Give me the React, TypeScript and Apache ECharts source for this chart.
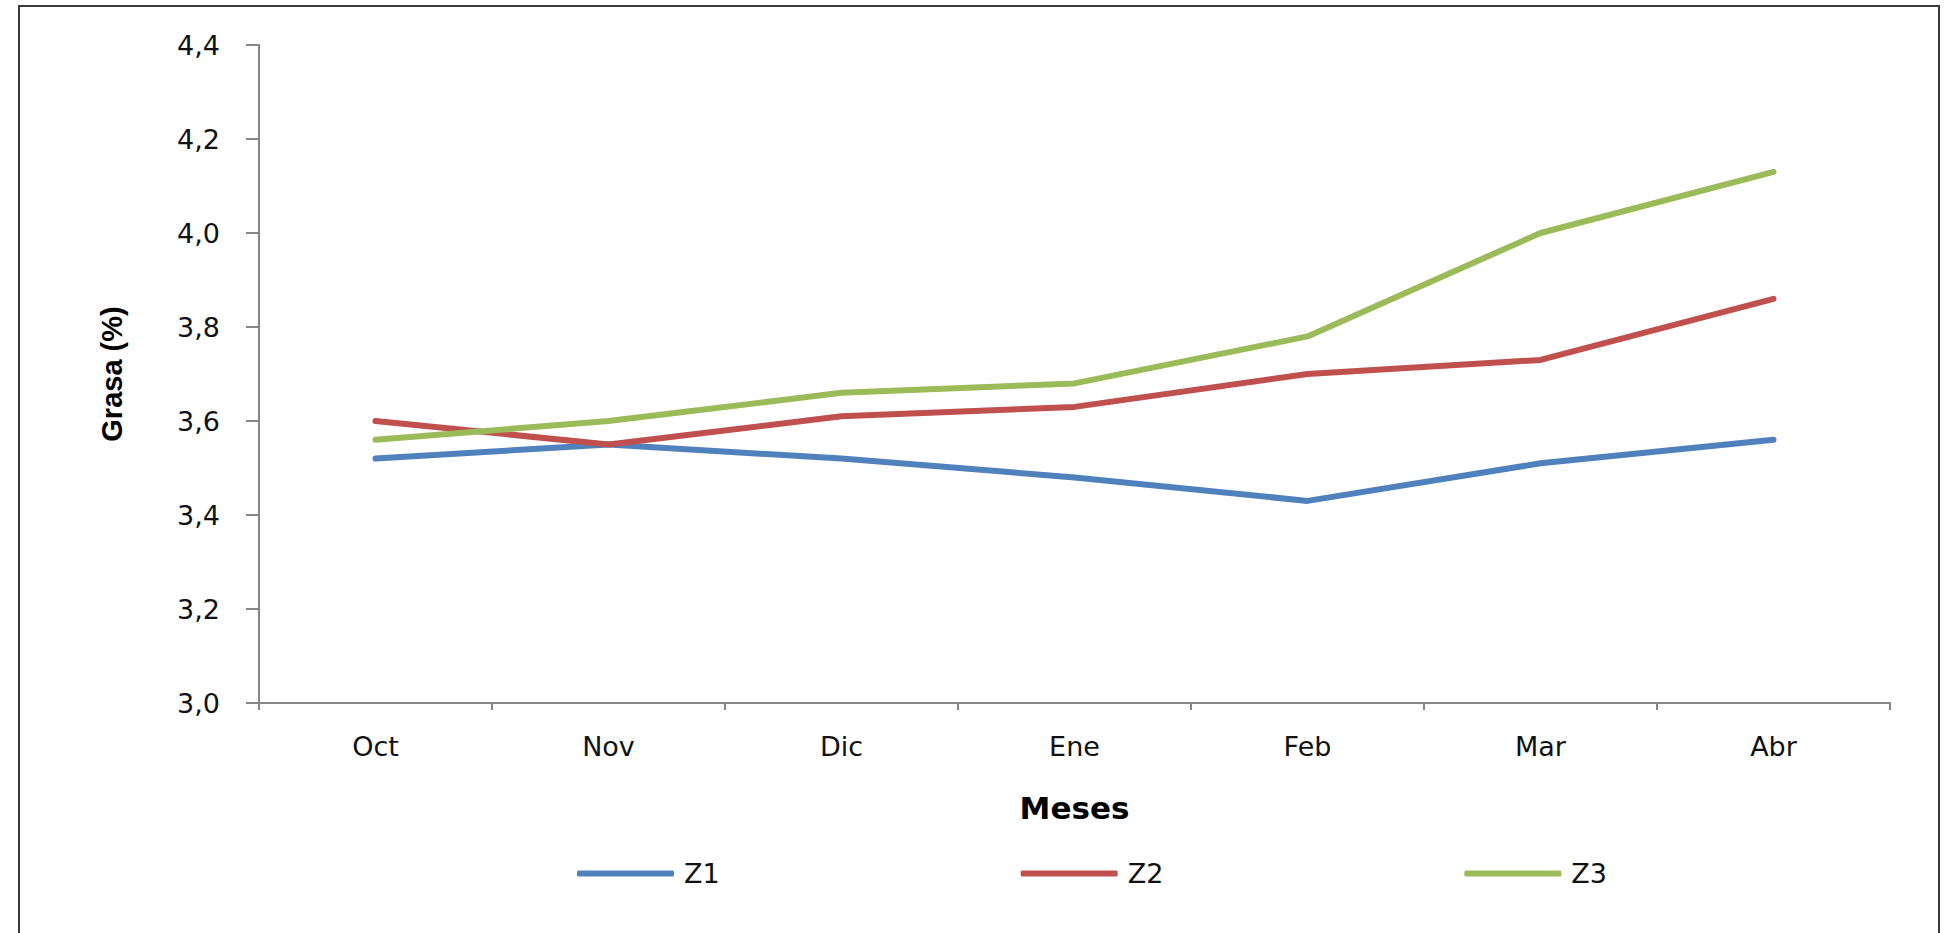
import React, { useEffect, useRef } from "react";
import * as echarts from "echarts";

const months = ["Oct", "Nov", "Dic", "Ene", "Feb", "Mar", "Abr"];
const z1 = [3.52, 3.55, 3.52, 3.48, 3.43, 3.51, 3.56];
const z2 = [3.6, 3.55, 3.61, 3.63, 3.7, 3.73, 3.86];
const z3 = [3.56, 3.6, 3.66, 3.68, 3.78, 4.0, 4.13];
const seriesNames = ["Z1", "Z2", "Z3"];
const colors = ["#4F81BD", "#C0504D", "#9BBB59"];

export default function App() {
  const ref = useRef<HTMLDivElement>(null);
  useEffect(() => {
    if (!ref.current) return;
    const chart = echarts.init(ref.current, null, { renderer: "svg" });
    const data = [z1, z2, z3];
    chart.setOption({
      animation: false,
      backgroundColor: "#ffffff",
      graphic: [
        {
          type: "rect",
          shape: { x: 19, y: 6, width: 1920, height: 940 },
          style: { fill: "none", stroke: "#3a3a3a", lineWidth: 2 },
          silent: true,
        },
      ],
      grid: { left: 259, right: 1955 - 1890, top: 45, bottom: 933 - 703, containLabel: false },
      legend: {
        left: 572,
        top: 855,
        itemWidth: 97,
        itemHeight: 6,
        itemGap: 301,
        icon: "roundRect",
        data: seriesNames,
        textStyle: {
          fontFamily: "DejaVu Sans",
          fontSize: 27,
          color: "#111",
          padding: [0, 0, 0, 5],
        },
      },
      xAxis: {
        type: "category",
        data: months,
        boundaryGap: true,
        name: "Meses",
        nameLocation: "middle",
        nameGap: 89,
        nameTextStyle: {
          fontFamily: "DejaVu Sans",
          fontWeight: "bold",
          fontSize: 31,
          color: "#000",
          verticalAlign: "top",
        },
        axisLine: { lineStyle: { color: "#868686", width: 2 } },
        axisTick: { show: true, length: 7, lineStyle: { color: "#868686", width: 2 } },
        axisLabel: {
          fontFamily: "DejaVu Sans",
          fontSize: 27,
          color: "#111",
          margin: 30,
        },
        splitLine: { show: false },
      },
      yAxis: {
        type: "value",
        min: 3.0,
        max: 4.4,
        interval: 0.2,
        name: "Grasa (%)",
        nameLocation: "middle",
        nameGap: 133,
        nameRotate: 90,
        nameTextStyle: {
          fontFamily: "Liberation Sans",
          fontWeight: "bold",
          fontSize: 29,
          color: "#000",
        },
        axisLine: { show: true, lineStyle: { color: "#868686", width: 2 } },
        axisTick: { show: true, length: 13, lineStyle: { color: "#868686", width: 2 } },
        axisLabel: {
          fontFamily: "DejaVu Sans",
          fontSize: 27,
          color: "#111",
          margin: 39,
          formatter: (v: number) => v.toFixed(1).replace(".", ","),
        },
        splitLine: { show: false },
      },
      series: seriesNames.map((n, i) => ({
        name: n,
        type: "line",
        data: data[i],
        symbol: "none",
        color: colors[i],
        lineStyle: { color: colors[i], width: 6, cap: "round", join: "round" },
        itemStyle: { color: colors[i] },
      })),
    });
    return () => chart.dispose();
  }, []);
  return (
    <div
      ref={ref}
      style={{ position: "absolute", left: 0, top: 0, width: 1955, height: 933 }}
    />
  );
}
